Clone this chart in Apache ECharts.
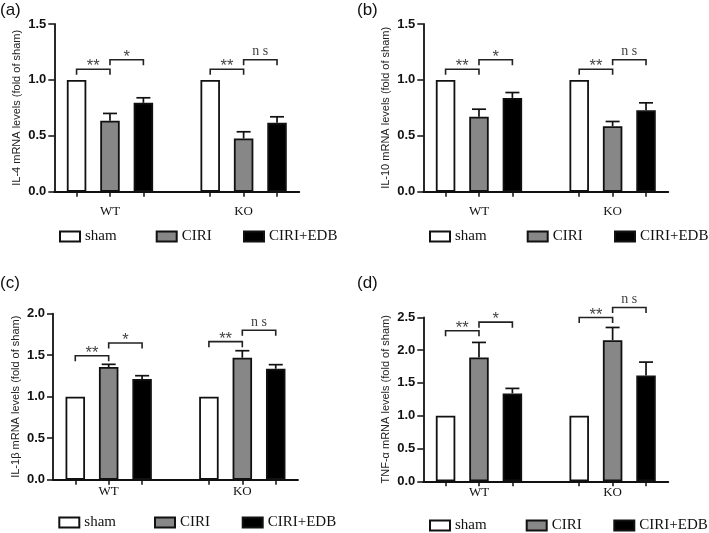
<!DOCTYPE html>
<html><head><meta charset="utf-8">
<script src="https://cdn.jsdelivr.net/npm/echarts@6/dist/echarts.min.js"></script>
<style>html,body{margin:0;padding:0;background:#fff}#c{width:709px;height:533px}</style>
</head><body><div id="c"></div>
<script>
// ---------- data ----------
const categories = ['WT', 'KO'];
const groups = ['sham', 'CIRI', 'CIRI+EDB'];
const panelLetters = ['(a)', '(b)', '(c)', '(d)'];
const yNames = ['IL-4 mRNA levels (fold of sham)', 'IL-10 mRNA levels (fold of sham)',
                'IL-1β mRNA levels (fold of sham)', 'TNF-α mRNA levels (fold of sham)'];
const yMaxes = [1.5, 1.5, 2.0, 2.5];
const yInterval = 0.5;

// IL-4
const il4Sham = [1.00, 1.00];
const il4Ciri = [0.634, 0.476];
const il4Edb = [0.795, 0.616];
const il4CiriErr = [0.066, 0.060];
const il4EdbErr = [0.045, 0.054];
const il4Levels = [[1.095, 1.18], [1.095, 1.18]];
// IL-10
const il10Sham = [1.00, 1.00];
const il10Ciri = [0.670, 0.586];
const il10Edb = [0.839, 0.729];
const il10CiriErr = [0.068, 0.042];
const il10EdbErr = [0.048, 0.066];
const il10Levels = [[1.095, 1.18], [1.095, 1.18]];
// IL-1beta
const il1bSham = [1.00, 1.00];
const il1bCiri = [1.357, 1.470];
const il1bEdb = [1.213, 1.337];
const il1bCiriErr = [0.033, 0.084];
const il1bEdbErr = [0.040, 0.049];
const il1bLevels = [[1.494, 1.647], [1.663, 1.80]];
// TNF-alpha
const tnfSham = [1.00, 1.00];
const tnfCiri = [1.888, 2.152];
const tnfEdb = [1.340, 1.614];
const tnfCiriErr = [0.229, 0.193];
const tnfEdbErr = [0.076, 0.203];
const tnfLevels = [[2.294, 2.426], [2.497, 2.65]];

// significance: [sham vs CIRI, CIRI vs CIRI+EDB] per category
const sigLabels = [['**', '*'], ['**', 'n s']];

const panelData = [
  {sham: il4Sham, ciri: il4Ciri, edb: il4Edb, ciriErr: il4CiriErr, edbErr: il4EdbErr, levels: il4Levels},
  {sham: il10Sham, ciri: il10Ciri, edb: il10Edb, ciriErr: il10CiriErr, edbErr: il10EdbErr, levels: il10Levels},
  {sham: il1bSham, ciri: il1bCiri, edb: il1bEdb, ciriErr: il1bCiriErr, edbErr: il1bEdbErr, levels: il1bLevels},
  {sham: tnfSham, ciri: tnfCiri, edb: tnfEdb, ciriErr: tnfCiriErr, edbErr: tnfEdbErr, levels: tnfLevels}
];

// ---------- layout ----------
const SANS = "'Liberation Sans', Arial, sans-serif";
const SERIF = "'Liberation Serif', 'Times New Roman', serif";
const grids = [
  {left: 54.3, top: 24, width: 245, height: 167.7},
  {left: 423.3, top: 24, width: 245, height: 167.7},
  {left: 53, top: 313.7, width: 245, height: 166},
  {left: 423.3, top: 317.3, width: 245, height: 164}
];
const titlePos = [[0, 2], [357, 2], [0, 275], [357, 275]];
const legendPos = [
  {lefts: [59, 155.7, 243], top: 229},
  {lefts: [429, 526.7, 614], top: 229},
  {lefts: [58.3, 154, 241.7], top: 515},
  {lefts: [429, 525.7, 613.3], top: 518}
];
const xLabelMargin = [13, 13, 5, 5];
const groupColors = ['#ffffff', '#878787', '#000000'];

// slot mapping on a fine category axis (3 slots per bar spacing)
const SLOTS = 23;
const slotOf = (ci, gi) => ci * 12 + 2 + gi * 3;
const slotNames = [];
for (let i = 0; i < SLOTS; i++) slotNames.push('s' + i);
const labelAt = {};
categories.forEach((c, ci) => { labelAt[slotOf(ci, 1)] = c; });
const tickSlots = [];
categories.forEach((c, ci) => groups.forEach((g, gi) => tickSlots.push(slotOf(ci, gi))));

const option = {
  animation: false,
  backgroundColor: '#fff',
  title: [], grid: [], xAxis: [], yAxis: [], legend: [], series: []
};

panelData.forEach((pd, p) => {
  option.title.push({text: panelLetters[p], left: titlePos[p][0], top: titlePos[p][1], padding: 0,
    textStyle: {fontFamily: SANS, fontSize: 17, fontWeight: 'normal', color: '#111'}});
  option.grid.push(Object.assign({containLabel: false}, grids[p]));
  option.xAxis.push({
    type: 'category', gridIndex: p, data: slotNames, boundaryGap: false,
    axisLine: {lineStyle: {color: '#111', width: 1.8}},
    axisTick: {show: true, length: 5, lineStyle: {color: '#111', width: 1.5},
      interval: (i) => tickSlots.indexOf(i) >= 0},
    axisLabel: {interval: (i) => labelAt[i] !== undefined, formatter: (v, i) => labelAt[i] || '',
      fontFamily: SERIF, fontSize: 13, color: '#111', margin: xLabelMargin[p]},
    splitLine: {show: false}
  });
  option.yAxis.push({
    type: 'value', gridIndex: p, min: 0, max: yMaxes[p], interval: yInterval,
    name: yNames[p], nameLocation: 'middle', nameRotate: 90, nameGap: 32,
    nameTextStyle: {fontFamily: SANS, fontSize: 11, color: '#222'},
    axisLine: {show: true, lineStyle: {color: '#111', width: 1.8}},
    axisTick: {show: true, length: 6, lineStyle: {color: '#111', width: 1.5}},
    axisLabel: {formatter: (v) => v.toFixed(1), fontFamily: SANS, fontSize: 13, fontWeight: 'bold', color: '#111', margin: 8},
    splitLine: {show: false}
  });
  const means = [pd.sham, pd.ciri, pd.edb];
  groups.forEach((g, gi) => {
    option.series.push({
      type: 'bar', name: g, xAxisIndex: p, yAxisIndex: p,
      barWidth: 19.5, barGap: '-100%',
      itemStyle: {color: groupColors[gi], borderColor: '#111', borderWidth: 1.8},
      data: categories.map((c, ci) => [slotOf(ci, gi), means[gi][ci]]),
      z: 2
    });
  });
  // error bars (upper only)
  const errData = [];
  categories.forEach((c, ci) => {
    errData.push([slotOf(ci, 1), pd.ciri[ci], pd.ciriErr[ci]]);
    errData.push([slotOf(ci, 2), pd.edb[ci], pd.edbErr[ci]]);
  });
  option.series.push({
    type: 'custom', xAxisIndex: p, yAxisIndex: p, z: 3, silent: true,
    encode: {x: 0, y: 1},
    data: errData,
    renderItem: (params, api) => {
      const x = api.value(0), m = api.value(1), e = api.value(2);
      const a = api.coord([x, m]), b = api.coord([x, m + e]);
      return {type: 'group', children: [
        {type: 'line', shape: {x1: a[0], y1: a[1], x2: b[0], y2: b[1]}, style: {stroke: '#111', lineWidth: 1.7}},
        {type: 'line', shape: {x1: b[0] - 7, y1: b[1], x2: b[0] + 7, y2: b[1]}, style: {stroke: '#111', lineWidth: 1.7}}
      ]};
    }
  });
  // significance brackets
  const brData = [], brText = [];
  categories.forEach((c, ci) => {
    brData.push([slotOf(ci, 0), slotOf(ci, 1), pd.levels[ci][0]]); brText.push(sigLabels[ci][0]);
    brData.push([slotOf(ci, 1), slotOf(ci, 2), pd.levels[ci][1]]); brText.push(sigLabels[ci][1]);
  });
  option.series.push({
    type: 'custom', xAxisIndex: p, yAxisIndex: p, z: 4, silent: true,
    encode: {x: [0, 1], y: 2},
    data: brData,
    renderItem: (params, api) => {
      const a = api.coord([api.value(0), api.value(2)]);
      const b = api.coord([api.value(1), api.value(2)]);
      const leg = 5.5;
      const txt = brText[params.dataIndex];
      const ns = txt === 'n s';
      return {type: 'group', children: [
        {type: 'polyline', shape: {points: [[a[0], a[1] + leg], [a[0], a[1]], [b[0], b[1]], [b[0], b[1] + leg]]},
          style: {stroke: '#222', lineWidth: 1.6, fill: null}},
        {type: 'text', x: (a[0] + b[0]) / 2, y: ns ? a[1] - 1 : a[1] + 6,
          style: {text: txt, align: 'center', verticalAlign: 'bottom', textAlign: 'center', textVerticalAlign: 'bottom',
            fontFamily: ns ? SERIF : SANS, fontSize: ns ? 14 : 16.5, fill: '#444'}}
      ]};
    }
  });
  groups.forEach((g, gi) => {
    option.legend.push({
      data: [g], left: legendPos[p].lefts[gi], top: legendPos[p].top, padding: 0,
      itemWidth: 20, itemHeight: 10, selectedMode: false, icon: 'rect',
      textStyle: {fontFamily: SERIF, fontSize: 15, color: '#111'}
    });
  });
});

const chart = echarts.init(document.getElementById('c'), null, {renderer: 'canvas'});
chart.setOption(option);
</script>
</body></html>
